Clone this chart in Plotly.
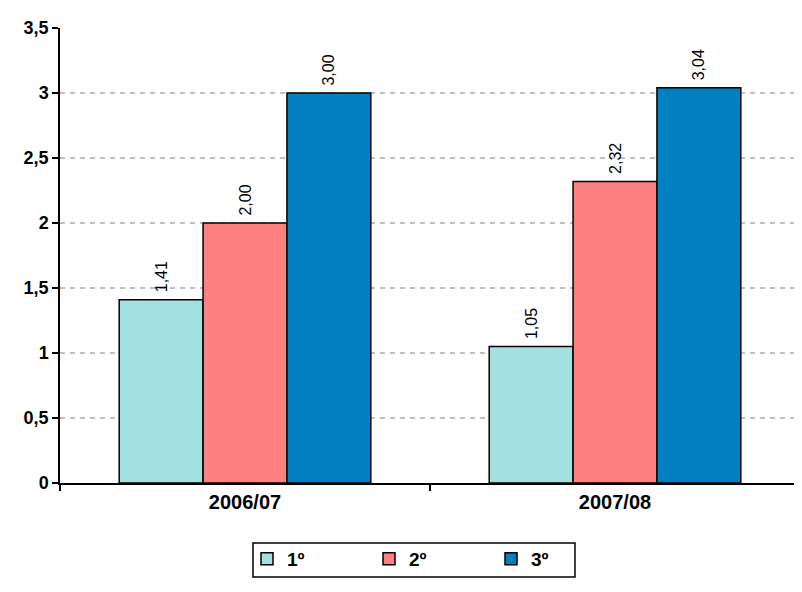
import plotly.graph_objects as go

categories = ["2006/07", "2007/08"]
series_names = ["1º", "2º", "3º"]
values_1 = [1.41, 1.05]
values_2 = [2.00, 2.32]
values_3 = [3.00, 3.04]
colors = ["#A3E0E0", "#FF8080", "#0080C0"]
y_ticks = [0, 0.5, 1, 1.5, 2, 2.5, 3, 3.5]
y_ticklabels = ["0", "0,5", "1", "1,5", "2", "2,5", "3", "3,5"]

font_family = "Liberation Sans, Arial, sans-serif"

W, H = 794, 584
L, R, T, B = 52, 2, 20, 109
pw, ph = W - L - R, H - T - B


def px_x(x):
    return (x - L) / pw


def px_y(y):
    return (H - B - y) / ph


fig = go.Figure()
for name, vals, col in zip(series_names, [values_1, values_2, values_3], colors):
    fig.add_trace(go.Bar(
        x=categories, y=vals, name=name,
        marker=dict(color=col, line=dict(color="black", width=1.5)),
        texttemplate="\u00a0%{y:.2f}", textposition="outside", textangle=-90,
        textfont=dict(family=font_family, size=16, color="black"),
        cliponaxis=False,
    ))

fig.add_shape(type="rect", xref="paper", yref="paper",
              x0=px_x(245), x1=px_x(567), y0=px_y(569), y1=px_y(535),
              line=dict(color="black", width=1.5), fillcolor="rgba(0,0,0,0)")

fig.update_layout(
    width=W, height=H,
    margin=dict(l=L, r=R, t=T, b=B),
    paper_bgcolor="white", plot_bgcolor="white",
    separators=",.",
    barmode="group", bargap=0.32, bargroupgap=0,
    font=dict(family=font_family, size=16, color="black"),
    showlegend=True,
    legend=dict(
        orientation="h", x=px_x(239), xanchor="left", y=px_y(532), yanchor="top",
        borderwidth=0, bgcolor="rgba(0,0,0,0)",
        font=dict(family=font_family, size=19, color="black", weight="bold"),
        entrywidth=77, entrywidthmode="pixels",
    ),
    xaxis=dict(
        showline=True, linecolor="black", linewidth=1.5, automargin=False,
        ticks="outside", tickson="boundaries", ticklen=6, tickcolor="black", tickwidth=1.5,
        tickfont=dict(family=font_family, size=20, color="black", weight="bold"),
        showgrid=False,
    ),
    yaxis=dict(
        range=[0, 3.5], tickvals=y_ticks, ticktext=y_ticklabels, automargin=False,
        showline=True, linecolor="black", linewidth=1.5,
        ticks="outside", ticklen=6, tickcolor="black", tickwidth=1.5,
        tickfont=dict(family=font_family, size=18, color="black", weight="bold"),
        showgrid=True, gridcolor="#C0C0C0", griddash="5px,5px", gridwidth=1.5,
        zeroline=False,
    ),
)

fig.write_html("out.html")
